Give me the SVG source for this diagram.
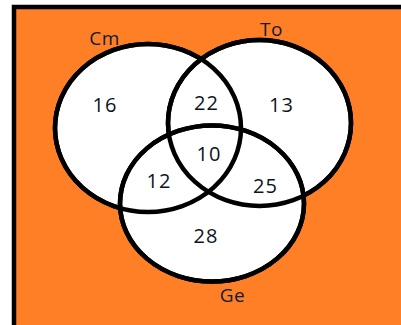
<svg xmlns="http://www.w3.org/2000/svg" width="401" height="325" viewBox="0 0 401 325">
<style>
.set{fill:#ffffff;stroke:#000000;stroke-width:4.5}
.outline{fill:none;stroke:#000000;stroke-width:4.5}
.num{font-family:"Open Sans","Noto Sans",sans-serif;font-size:20px;letter-spacing:1px;fill:#0c1424;text-anchor:middle}
.lbl{font-family:"Open Sans","Noto Sans",sans-serif;font-size:19px;letter-spacing:0.5px;fill:#101c34;text-anchor:middle}
</style>
<rect x="0" y="0" width="401" height="325" fill="#ffffff"/>
<rect id="universe" x="14" y="7" width="400" height="330" fill="#ff7f27" stroke="#000000" stroke-width="4.5"/>
<g id="fills">
<ellipse class="set" cx="148" cy="128" rx="93" ry="84"/>
<ellipse class="set" cx="259.5" cy="123" rx="91.5" ry="83"/>
<ellipse class="set" cx="212" cy="203.5" rx="92" ry="78"/>
</g>
<g id="set-Cm">
<ellipse class="outline" cx="148" cy="128" rx="93" ry="84"/>
<text class="lbl" x="104.5" y="45">Cm</text>
</g>
<g id="set-To">
<ellipse class="outline" cx="259.5" cy="123" rx="91.5" ry="83"/>
<text class="lbl" x="271.5" y="36">To</text>
</g>
<g id="set-Ge">
<ellipse class="outline" cx="212" cy="203.5" rx="92" ry="78"/>
<text class="lbl" x="232.5" y="302">Ge</text>
</g>
<g id="regions">
<text class="num" x="105" y="112">16</text>
<text class="num" x="206.5" y="110">22</text>
<text class="num" x="281.5" y="112">13</text>
<text class="num" x="209" y="161">10</text>
<text class="num" x="159" y="188">12</text>
<text class="num" x="265.5" y="193">25</text>
<text class="num" x="206" y="243">28</text>
</g>
</svg>
